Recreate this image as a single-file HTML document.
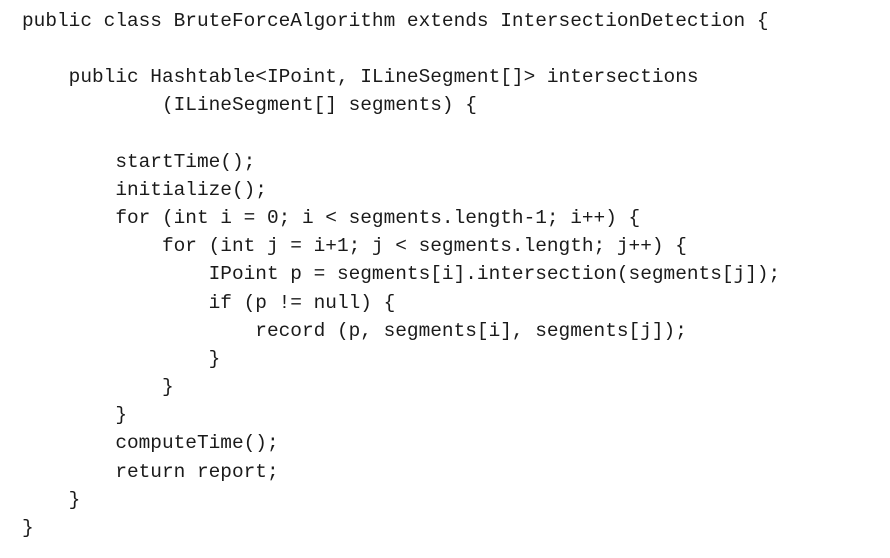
<!DOCTYPE html>
<html><head><meta charset="utf-8"><style>
html,body{margin:0;padding:0;background:#fff;width:890px;height:558px;overflow:hidden}
pre{margin:0;position:absolute;left:22px;top:7px;font-family:"Liberation Mono","DejaVu Sans Mono",monospace;font-size:19.45px;line-height:28.15px;color:#1a1a1a}
</style></head><body>
<pre>public class BruteForceAlgorithm extends IntersectionDetection {

    public Hashtable&lt;IPoint, ILineSegment[]&gt; intersections
            (ILineSegment[] segments) {

        startTime();
        initialize();
        for (int i = 0; i &lt; segments.length-1; i++) {
            for (int j = i+1; j &lt; segments.length; j++) {
                IPoint p = segments[i].intersection(segments[j]);
                if (p != null) {
                    record (p, segments[i], segments[j]);
                }
            }
        }
        computeTime();
        return report;
    }
}</pre>
</body></html>
